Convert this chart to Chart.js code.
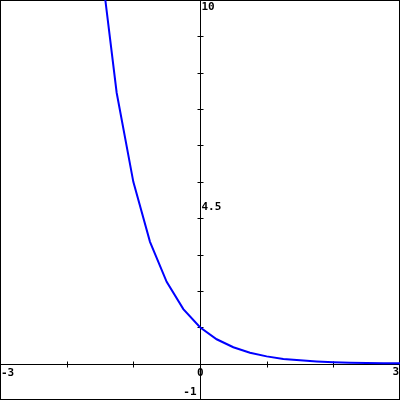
<!DOCTYPE html>
<html>
<head>
<meta charset="utf-8">
<script src="https://cdn.jsdelivr.net/npm/chart.js@4"></script>
<style>
body { margin: 0; background: #fff; }
</style>
</head>
<body>
<canvas id="graph" width="400" height="400"></canvas>
<script>
var xValues = [-1.5, -1.25, -1, -0.75, -0.5, -0.25, 0, 0.25, 0.5, 0.75, 1, 1.25, 1.5, 1.75, 2, 2.25, 2.5, 2.75, 3];
var yValues = [11.2, 7.45, 5.0, 3.35, 2.25, 1.5, 1.0, 0.67, 0.45, 0.3, 0.2, 0.13, 0.09, 0.06, 0.04, 0.027, 0.018, 0.012, 0.008];

// axis ranges, ticks and labels
var xRange = [-3, 3];
var yRange = [-1, 10];
var xTicks = [-2, -1, 1, 2];
var yTicks = [-1, 1, 2, 3, 4, 5, 6, 7, 8, 9, 10];
var xLabels = [-3, 0, 3];
var yLabels = [-1, 4.5, 10];

var points = xValues.map(function(x, i){
    return {x: x, y: yValues[i]};
});

// draws the frame, the crossing axes, tick marks and labels
var axesPlugin = {
    id: "crossAxes",
    beforeDatasetsDraw: function(chart){
        var ctx = chart.ctx;
        var xs = chart.scales.x;
        var ys = chart.scales.y;
        var x0 = Math.round(xs.getPixelForValue(0)) + 0.5;
        var y0 = Math.round(ys.getPixelForValue(0)) + 0.5;
        ctx.save();
        ctx.strokeStyle = "#000";
        ctx.lineWidth = 1;
        ctx.beginPath();
        ctx.moveTo(x0, 0);
        ctx.lineTo(x0, chart.height);
        ctx.moveTo(0, y0);
        ctx.lineTo(chart.width, y0);
        xTicks.forEach(function(t){
            var px = Math.round(xs.getPixelForValue(t)) + 0.5;
            ctx.moveTo(px, y0 - 3);
            ctx.lineTo(px, y0 + 3);
        });
        yTicks.forEach(function(t){
            var py = Math.round(ys.getPixelForValue(t)) + 0.5;
            ctx.moveTo(x0 - 3, py);
            ctx.lineTo(x0 + 3, py);
        });
        ctx.stroke();
        ctx.strokeRect(0.5, 0.5, chart.width - 1, chart.height - 1);

        ctx.fillStyle = "#000";
        ctx.font = "bold 11px 'DejaVu Sans Mono'";
        ctx.textBaseline = "top";
        // x labels under the horizontal axis
        xLabels.forEach(function(v){
            var px = xs.getPixelForValue(v);
            if (v == xRange[0]){
                ctx.textAlign = "left";
                ctx.fillText(String(v), px + 1, y0 + 3);
            } else if (v == xRange[1]){
                ctx.textAlign = "right";
                ctx.fillText(String(v), px - 1, y0 + 2);
            } else {
                ctx.textAlign = "left";
                ctx.fillText(String(v), px - 3, y0 + 3);
            }
        });
        // y labels beside the vertical axis
        yLabels.forEach(function(v){
            var py = ys.getPixelForValue(v);
            if (v == yRange[0]){
                ctx.textAlign = "right";
                ctx.textBaseline = "bottom";
                ctx.fillText(String(v), x0 - 4, py - 2);
            } else {
                ctx.textAlign = "left";
                ctx.textBaseline = "top";
                ctx.fillText(String(v), x0 + 1, py + 2);
            }
        });
        ctx.restore();
    }
};

var ctx = document.getElementById("graph");
new Chart(ctx, {
    type: "line",
    data: {
        datasets: [{
            data: points,
            borderColor: "#0000ff",
            borderWidth: 2,
            pointRadius: 0,
            tension: 0,
            fill: false
        }]
    },
    options: {
        responsive: false,
        animation: false,
        layout: { padding: 0 },
        plugins: {
            legend: { display: false },
            tooltip: { enabled: false }
        },
        scales: {
            x: { type: "linear", min: xRange[0], max: xRange[1], display: false },
            y: { type: "linear", min: yRange[0], max: yRange[1], display: false }
        }
    },
    plugins: [axesPlugin]
});
</script>
</body>
</html>
